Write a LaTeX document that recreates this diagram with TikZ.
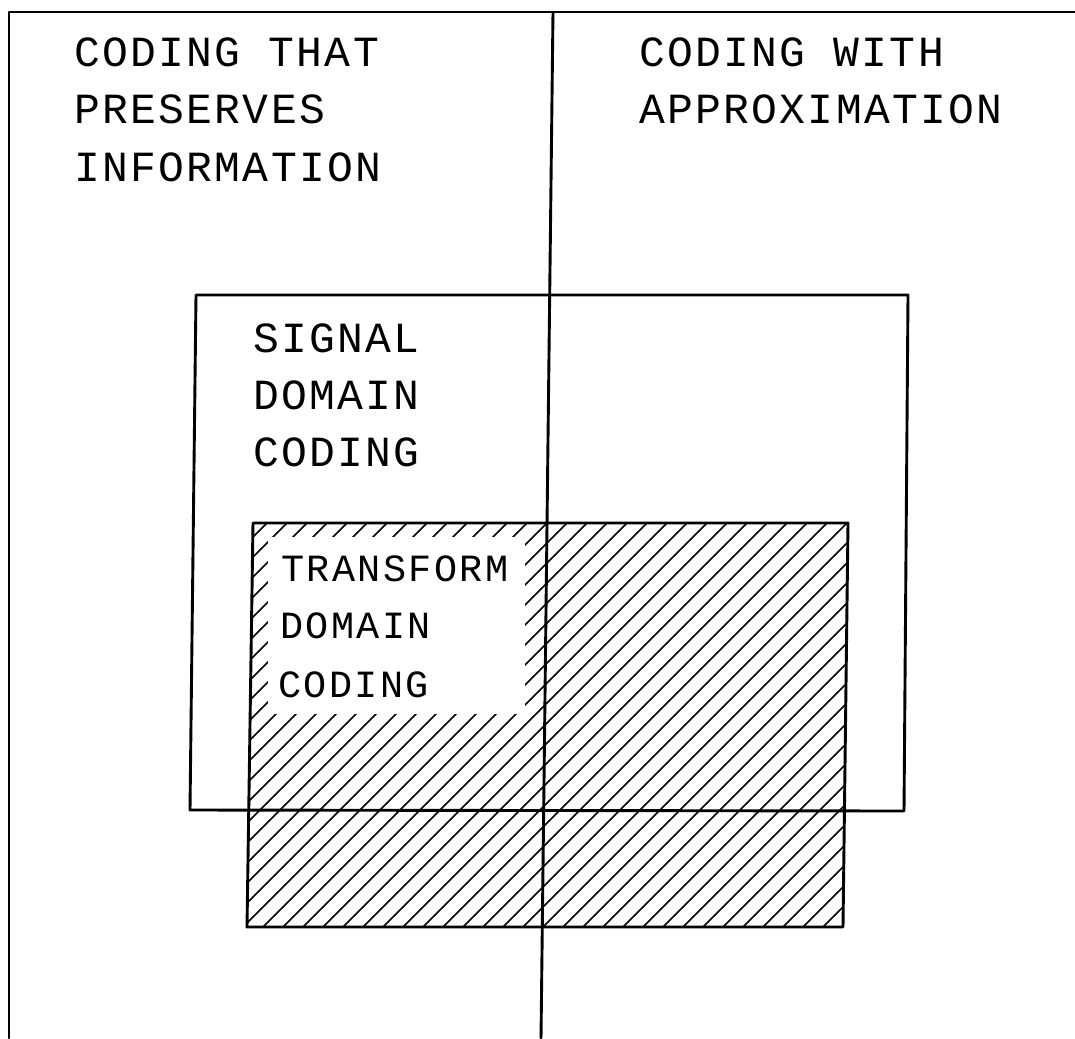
\documentclass[tikz,border=0pt]{standalone}
\usepackage{fontspec}
\newfontfamily\plotfont[LetterSpace=5.4]{Liberation Mono}
\newfontfamily\plotfontsmall[LetterSpace=6.2]{Liberation Mono}
\begin{document}
\begin{tikzpicture}[x=1pt,y=-1pt,
  frame/.style={line width=2.9pt, line join=round, line cap=round},
  hatchline/.style={line width=1.5pt},
  lbl/.style={anchor=base west, inner sep=0pt, font=\plotfont\fontsize{43}{57}\selectfont},
  slbl/.style={anchor=base west, inner sep=0pt, font=\plotfontsmall\fontsize{38.5}{57}\selectfont}]
\useasboundingbox (0,0) rectangle (1075,1038);
% corner points
\coordinate (tl) at (9,12);
\coordinate (tr) at (1075,12);
\coordinate (bl) at (9,1038);
\coordinate (mt) at (553,12);
\coordinate (mb) at (541,1038);
\coordinate (s1) at (196,295);
\coordinate (s2) at (908,295);
\coordinate (s3) at (904,811);
\coordinate (s4) at (190,810);
\coordinate (t1) at (253,523);
\coordinate (t2) at (848,523);
\coordinate (t3) at (843,927);
\coordinate (t4) at (247,927);
% hatching of the transform region
\begin{scope}
  \clip (t1) -- (t2) -- (t3) -- (t4) -- cycle;
  \foreach \c in {770,790,...,1790} {
    \draw[hatchline] (\c-960,960) -- (\c-500,500);
  }
\end{scope}
\fill[white] (268,537) rectangle (525,714);
% outlines
\draw[frame] (t1) -- (t2) -- (t3) -- (t4) -- cycle;
\draw[frame] (s1) -- (s2) -- (s3) -- (s4) -- cycle;
\draw[frame] (bl) -- (tl) -- (tr);
\draw[frame] (mt) -- (mb);
% labels
\node[lbl] (a1) at (74,67) {CODING THAT};
\node[lbl] (a2) at (74,124) {PRESERVES};
\node[lbl] (a3) at (74,181) {INFORMATION};
\node[lbl] (b1) at (639,67) {CODING WITH};
\node[lbl] (b2) at (639,124) {APPROXIMATION};
\node[lbl] (c1) at (253,352) {SIGNAL};
\node[lbl] (c2) at (253,409) {DOMAIN};
\node[lbl] (c3) at (253,466) {CODING};
\node[slbl] (d1) at (281,581) {TRANSFORM};
\node[slbl] (d2) at (280,638) {DOMAIN};
\node[slbl] (d3) at (278,697) {CODING};
\end{tikzpicture}
\end{document}
